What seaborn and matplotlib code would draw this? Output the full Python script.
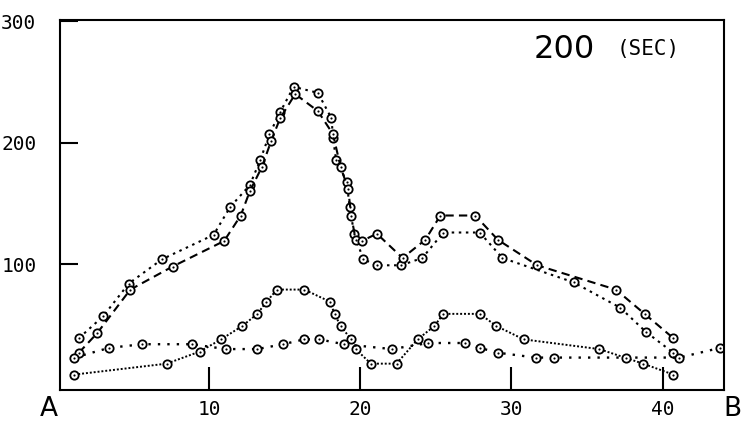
import matplotlib
matplotlib.use("Agg")
import matplotlib.pyplot as plt
import seaborn as sns
import pandas as pd

# ---- data ----
# series A: dotted upper curve (starts ~39, lower right hump ~126)
a_x = [1.4, 3.0, 4.7, 6.9, 10.3, 11.4, 12.7, 13.4, 14.0, 14.7, 15.6, 17.2, 18.1, 18.2, 18.4, 19.1, 19.3, 19.6,
       20.2, 21.1, 22.7, 24.1, 25.5, 27.9, 29.4, 34.1, 37.2, 38.9, 40.7]
a_y = [39, 57, 84, 104, 124, 147, 165, 186, 207, 225, 246, 241, 220, 204, 186, 168, 147, 125,
       104, 99, 99, 105, 126, 126, 105, 85, 64, 44, 27]
# series B: dashed upper curve (starts ~27, higher right hump ~140)
b_x = [1.4, 2.6, 4.8, 7.6, 11.0, 12.1, 12.7, 13.5, 14.1, 14.7, 15.7, 17.2, 18.2, 18.7, 19.2, 19.4, 19.7,
       20.1, 21.1, 22.8, 24.3, 25.3, 27.6, 29.1, 31.7, 36.9, 38.8, 40.7]
b_y = [27, 43, 79, 98, 119, 140, 160, 180, 201, 220, 240, 226, 207, 180, 162, 140, 120,
       119, 125, 105, 120, 140, 140, 120, 99, 79, 59, 39]
# series C: dense dotted lower curve with humps (~79 and ~59)
c_x = [1.1, 7.2, 9.4, 10.8, 12.2, 13.2, 13.8, 14.5, 16.3, 18.0, 18.3, 18.7, 19.4, 19.7, 20.7, 22.4,
       23.8, 24.9, 25.5, 27.9, 29.0, 30.8, 35.8, 38.7, 40.7]
c_y = [9, 18, 28, 38, 49, 59, 69, 79, 79, 69, 59, 49, 38, 30, 18, 18,
       38, 49, 59, 59, 49, 38, 30, 18, 9]
# series D: sparse dotted flat curve (~20-40)
d_x = [1.1, 3.4, 5.6, 8.9, 11.1, 13.2, 14.9, 16.3, 17.3, 18.9, 22.1, 24.5, 26.9, 27.9, 29.1, 31.6,
       32.8, 37.6, 41.1, 43.8]
d_y = [23, 31, 34, 34, 30, 30, 34, 38, 38, 34, 30, 35, 35, 31, 27, 23,
       23, 23, 23, 31]

x_ticks = [10, 20, 30, 40]
y_ticks = [100, 200, 300]
end_labels = ["A", "B"]
title_main = "200"
title_unit = "(SEC)"

series = [
    ("A", a_x, a_y, (0, (1.2, 2.2)), 1.5),
    ("B", b_x, b_y, (0, (4, 2.5)), 1.5),
    ("C", c_x, c_y, (0, (1, 1)), 1.4),
    ("D", d_x, d_y, (0, (1, 3)), 1.7),
]

sns.set_style("white")
plt.rcParams["font.family"] = ["DejaVu Sans"]

fig = plt.figure(figsize=(7.43, 4.29), dpi=100)
ax = fig.add_axes([60 / 743, 1 - 390 / 429, 664 / 743, 370 / 429])

for name, xs, ys, ls, lw in series:
    df = pd.DataFrame({"x": xs, "y": ys})
    sns.lineplot(data=df, x="x", y="y", ax=ax, color="black", sort=False, estimator=None,
                 linestyle=ls, linewidth=lw, marker="o", markersize=6,
                 markerfacecolor="white", markeredgecolor="black", markeredgewidth=1.3)
    sns.scatterplot(data=df, x="x", y="y", ax=ax, color="black", s=2.5, linewidth=0, zorder=5)

ax.set_xlim(0.15, 44.05)
ax.set_ylim(-3.7, 301)
ax.set_xticks(x_ticks)
ax.set_xticklabels([str(t) for t in x_ticks], fontfamily="DejaVu Sans Mono", fontsize=14)
ax.set_yticks(y_ticks)
ax.set_yticklabels([str(t) for t in y_ticks], fontfamily="DejaVu Sans Mono", fontsize=14)
ax.tick_params(axis="x", bottom=True, direction="in", length=16.5, width=1.5, pad=7, colors="black")
ax.tick_params(axis="y", left=True, direction="in", length=13, width=1.5, pad=17, colors="black")
ax.set_xlabel("")
ax.set_ylabel("")
for sp in ax.spines.values():
    sp.set_visible(True)
    sp.set_color("black")
    sp.set_linewidth(1.5)

fig.text(49 / 743, 1 - 409 / 429, end_labels[0], ha="center", va="center", fontsize=19,
         fontfamily="DejaVu Sans", color="black")
fig.text(732 / 743, 1 - 409 / 429, end_labels[1], ha="center", va="center", fontsize=19,
         fontfamily="DejaVu Sans", color="black")

fig.text(564 / 743, 1 - 50 / 429, title_main, ha="center", va="center", fontsize=23,
         fontfamily="DejaVu Sans", color="black")
fig.text(648 / 743, 1 - 49 / 429, title_unit, ha="center", va="center", fontsize=15,
         fontfamily="DejaVu Sans Mono", color="black")

fig.savefig("out.png", dpi=100)
